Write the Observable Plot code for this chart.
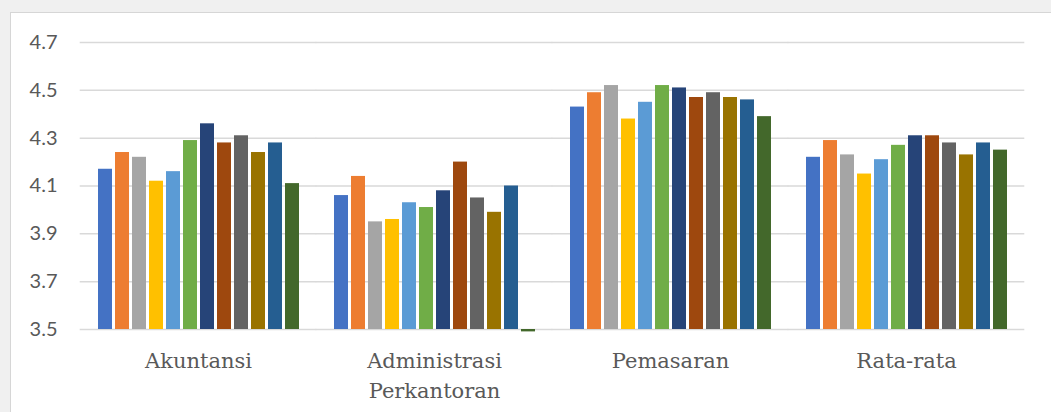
<!DOCTYPE html>
<html>
<head>
<meta charset="utf-8">
<script src="https://cdn.jsdelivr.net/npm/d3@7"></script>
<script src="https://cdn.jsdelivr.net/npm/@observablehq/plot@0.6"></script>
<style>
  html, body { margin: 0; padding: 0; background: #f0f0f0; overflow: hidden; }
  #frame {
    position: absolute; left: 10px; top: 12px;
    width: 1060px; height: 420px;
    background: #ffffff;
    border-left: 1px solid #d6d6d6; border-top: 1px solid #d6d6d6;
  }
</style>
</head>
<body>
<div id="frame"></div>
<script>
const categories = ["Akuntansi", "Administrasi\nPerkantoran", "Pemasaran", "Rata-rata"];
const seriesNames = ["S1","S2","S3","S4","S5","S6","S7","S8","S9","S10","S11","S12"];
const seriesColors = ["#4472C4","#ED7D31","#A5A5A5","#FFC000","#5B9BD5","#70AD47","#264478","#9E480E","#636363","#997300","#255E91","#43682B"];
const akuntansi    = [4.17, 4.24, 4.22, 4.12, 4.16, 4.29, 4.36, 4.28, 4.31, 4.24, 4.28, 4.11];
const administrasi = [4.06, 4.14, 3.95, 3.96, 4.03, 4.01, 4.08, 4.20, 4.05, 3.99, 4.10, 3.49];
const pemasaran    = [4.43, 4.49, 4.52, 4.38, 4.45, 4.52, 4.51, 4.47, 4.49, 4.47, 4.46, 4.39];
const rataRata     = [4.22, 4.29, 4.23, 4.15, 4.21, 4.27, 4.31, 4.31, 4.28, 4.23, 4.28, 4.25];
const yTicks = [3.5, 3.7, 3.9, 4.1, 4.3, 4.5, 4.7];

const valueLists = [akuntansi, administrasi, pemasaran, rataRata];
const data = [];
categories.forEach((c, i) => {
  seriesNames.forEach((s, j) => data.push({cat: c, series: s, value: valueLists[i][j]}));
});

const chart = Plot.plot({
  width: 1040,
  height: 400,
  marginTop: 29,
  marginBottom: 84,
  marginLeft: 69,
  marginRight: 27,
  style: {background: "transparent", color: "#595959"},
  fx: {domain: categories, paddingInner: 0.128, paddingOuter: 0.064, label: null},
  x: {domain: seriesNames, paddingInner: 0.2, paddingOuter: 0, axis: null},
  y: {domain: [3.5, 4.7], label: null},
  color: {domain: seriesNames, range: seriesColors},
  marks: [
    Plot.ruleY(yTicks, {y: d => d, insetLeft: -15.3, insetRight: -15.3, stroke: "#d9d9d9", strokeWidth: 1.5}),
    Plot.axisY(yTicks, {tickSize: 0, tickPadding: 38, fontSize: 20, fontFamily: "Lato", fill: "#595959", tickFormat: d3.format(".1f"), label: null}),
    Plot.barY(data, {fx: "cat", x: "series", y1: 3.5, y2: "value", fill: "series"}),
    Plot.axisFx({anchor: "bottom", tickSize: 0, tickPadding: 18, fontSize: 21, lineHeight: 1.4, fontFamily: "DejaVu Serif", fill: "#595959", label: null})
  ]
});
chart.style.position = "absolute";
chart.style.left = "11px";
chart.style.top = "13px";
document.body.appendChild(chart);
</script>
</body>
</html>
